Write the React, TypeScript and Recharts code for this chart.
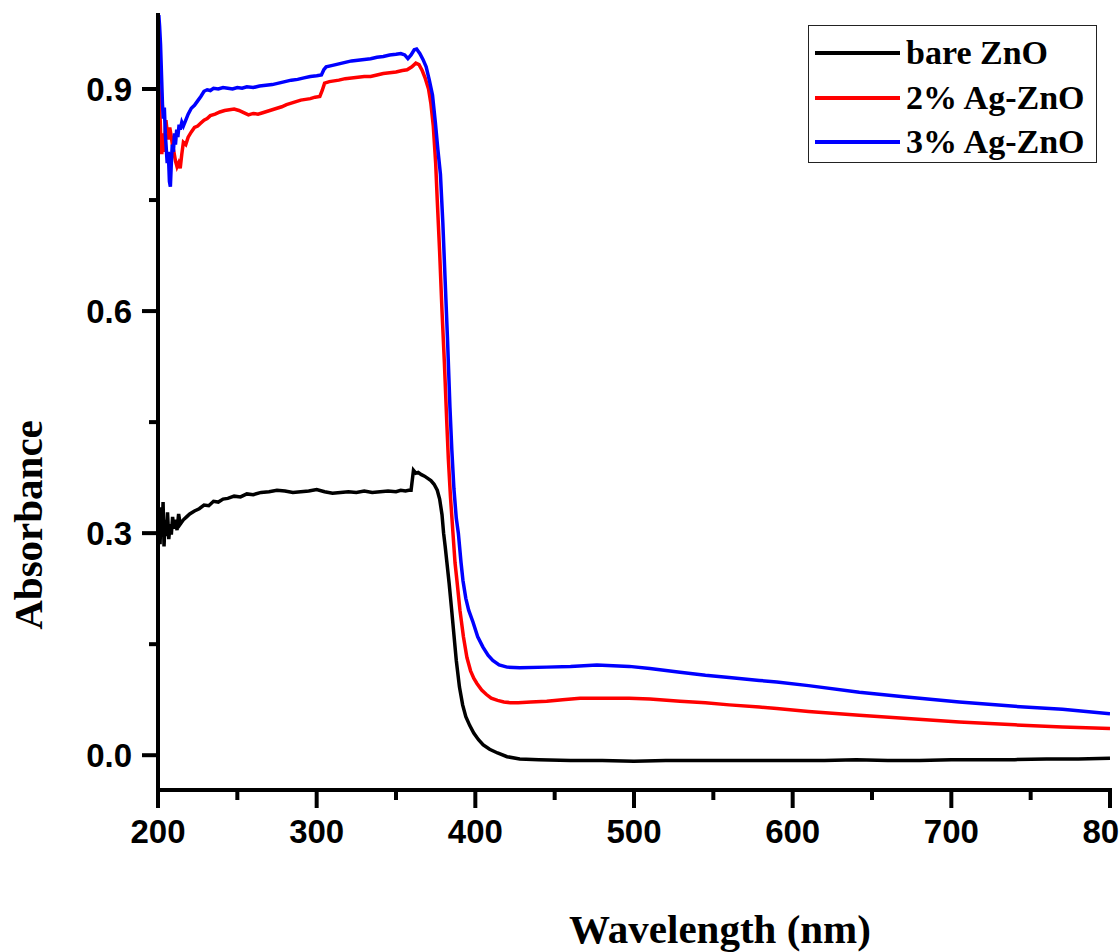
import React from 'react';
import { LineChart, Line, XAxis, YAxis, Legend, Label } from 'recharts';

// ---- data ----
const seriesNames = ['bare ZnO', '2% Ag-ZnO', '3% Ag-ZnO'];
const seriesColors = ['#000000', '#ff0000', '#0000ff'];

const bareWl = [
  200, 200.7, 201.3, 202, 202.6, 203.2, 203.8, 204.5, 205.2, 206, 206.8, 207.6, 208.4, 209.2, 210, 211, 212, 213, 214,
  216, 218, 220, 223, 226, 229, 232, 235, 238, 241, 244, 248, 252, 256, 260, 265, 270, 275, 280, 285, 290, 295, 300,
  305, 310, 315, 320, 325, 330, 335, 340, 345, 350, 353, 356, 358, 359.5, 361, 362.5, 364, 366, 368, 370, 372, 374,
  376, 377.5, 379, 380, 381, 382, 383.5, 385, 386.5, 388, 390, 392, 394, 396.5, 399, 402, 405, 409, 414, 420, 428,
  440, 460, 480, 500, 520, 540, 560, 580, 600, 620, 640, 660, 680, 700, 720, 740, 760, 780, 800,
];
const bareAbs = [
  0.29, 0.315, 0.285, 0.335, 0.295, 0.342, 0.282, 0.318, 0.296, 0.328, 0.292, 0.312, 0.298, 0.322, 0.306, 0.318, 0.304, 0.326, 0.312,
  0.318, 0.322, 0.326, 0.33, 0.333, 0.338, 0.337, 0.343, 0.342, 0.346, 0.347, 0.35, 0.349, 0.353, 0.352, 0.355, 0.356, 0.358, 0.357, 0.355, 0.356, 0.357, 0.359,
  0.356, 0.354, 0.355, 0.356, 0.355, 0.357, 0.355, 0.356, 0.357, 0.356, 0.358, 0.357, 0.358, 0.358, 0.385, 0.381, 0.382, 0.379, 0.377, 0.374, 0.371, 0.366,
  0.358, 0.346, 0.325, 0.3, 0.282, 0.262, 0.232, 0.198, 0.163, 0.128, 0.092, 0.068, 0.052, 0.04, 0.03, 0.021, 0.014, 0.008, 0.003, -0.002, -0.005,
  -0.006, -0.007, -0.007, -0.008, -0.007, -0.007, -0.007, -0.007, -0.007, -0.007, -0.006, -0.007, -0.007, -0.006, -0.006, -0.006, -0.005, -0.005, -0.004,
];

const ag2Wl = [
  200, 200.6, 201.2, 201.8, 202.4, 203, 203.6, 204.3, 205, 205.8, 206.6, 207.4, 208.2, 209, 210, 211, 212, 213, 214, 215, 216,
  217.5, 219, 221, 223, 225, 227, 229, 231, 233, 236, 239, 242, 245, 248, 251, 254, 257, 260, 263, 266, 269, 272, 275, 278,
  281, 284, 287, 290, 293, 296, 299, 302, 303.5, 305, 308, 311, 314, 318, 322, 326, 330, 334, 338, 342, 346, 350, 354, 357,
  360, 362.5, 364.5, 366.5, 368.5, 370.5, 372, 373.5, 375, 376, 377.5, 379, 380.5, 382, 383, 384.3, 385.9, 387.2, 388.4, 390.3,
  392.5, 394.7, 397, 399, 401, 404, 407, 410, 414, 418, 422, 427, 435, 445, 455, 466, 480, 497, 510, 529, 545, 560, 579, 590,
  610, 642, 670, 705, 740, 770, 800,
];
const ag2Abs = [
  0.935, 0.905, 0.87, 0.83, 0.812, 0.84, 0.815, 0.835, 0.858, 0.842, 0.832, 0.848, 0.838, 0.826, 0.815, 0.803, 0.795, 0.8, 0.793, 0.812, 0.828,
  0.825, 0.835, 0.842, 0.848, 0.85, 0.854, 0.858, 0.86, 0.864, 0.866, 0.869, 0.871, 0.872, 0.873, 0.871, 0.868, 0.865, 0.867, 0.866, 0.868, 0.87, 0.872, 0.874, 0.876,
  0.879, 0.881, 0.883, 0.885, 0.886, 0.887, 0.889, 0.89, 0.898, 0.908, 0.91, 0.911, 0.912, 0.914, 0.915, 0.916, 0.917, 0.917, 0.919, 0.921, 0.922, 0.923, 0.925, 0.926,
  0.93, 0.935, 0.933, 0.925, 0.914, 0.9, 0.88, 0.85, 0.8, 0.75, 0.68, 0.6, 0.53, 0.45, 0.4, 0.35, 0.3, 0.26, 0.236, 0.196,
  0.16, 0.132, 0.114, 0.104, 0.097, 0.088, 0.082, 0.077, 0.074, 0.072, 0.071, 0.071, 0.072, 0.073, 0.075, 0.077, 0.077, 0.077, 0.076, 0.073, 0.071, 0.068, 0.065, 0.063,
  0.059, 0.054, 0.05, 0.045, 0.041, 0.038, 0.036,
];

const ag3Wl = [
  200, 200.5, 201, 201.6, 202.2, 202.8, 203.4, 204, 204.6, 205.2, 205.8, 206.5, 207.2, 207.8, 208.4, 209, 209.7, 210.4, 211, 211.8,
  212.5, 213.3, 214, 215, 216, 217.5, 219, 221, 223, 225, 227, 229, 231, 233, 235, 238, 241, 244, 247, 250, 253, 256, 260, 264,
  268, 272, 276, 280, 284, 288, 292, 296, 300, 303, 304.5, 306, 310, 314, 318, 322, 326, 330, 334, 338, 342, 346, 350, 353,
  355.5, 357.5, 359.5, 361.5, 363, 365, 367, 369, 371, 373, 374.8, 376.4, 378, 379.5, 381, 382.5, 384, 385.2, 386.5, 388, 389.3,
  391, 392.2, 394, 395.8, 398.5, 401.5, 404.8, 408, 411, 415, 420, 428, 445, 460, 476.6, 497, 510, 529, 545, 560, 579, 590,
  610, 642, 670, 705, 740, 770, 800,
];
const ag3Abs = [
  0.99, 1.0, 0.985, 0.96, 0.92, 0.88, 0.86, 0.875, 0.84, 0.82, 0.8, 0.815, 0.775, 0.768, 0.8, 0.825, 0.815, 0.84, 0.825, 0.845,
  0.835, 0.852, 0.845, 0.855, 0.85, 0.858, 0.866, 0.874, 0.878, 0.884, 0.89, 0.897, 0.899, 0.898, 0.901, 0.9, 0.902, 0.901, 0.9, 0.902, 0.901, 0.903, 0.902, 0.904,
  0.905, 0.906, 0.908, 0.91, 0.912, 0.913, 0.915, 0.917, 0.918, 0.919, 0.926, 0.93, 0.932, 0.934, 0.936, 0.938, 0.939, 0.94, 0.941, 0.943, 0.944, 0.946, 0.947, 0.948,
  0.946, 0.941, 0.946, 0.953, 0.954, 0.948, 0.94, 0.93, 0.912, 0.892, 0.855, 0.818, 0.785, 0.72, 0.64, 0.56, 0.47, 0.412, 0.36, 0.32, 0.3,
  0.26, 0.236, 0.212, 0.196, 0.18, 0.16, 0.146, 0.135, 0.128, 0.122, 0.119, 0.118, 0.119, 0.12, 0.122, 0.12, 0.117, 0.112, 0.108, 0.105, 0.101, 0.099,
  0.094, 0.085, 0.079, 0.072, 0.066, 0.062, 0.056,
];

const xTicks = [200, 250, 300, 350, 400, 450, 500, 550, 600, 650, 700, 750, 800];
const yTicks = [0, 0.15, 0.3, 0.45, 0.6, 0.75, 0.9];
const xDomain = [200, 800];
const yDomain = [-0.047, 1.0];
const xTitle = 'Wavelength (nm)';
const yTitle = 'Absorbance';

const zip = (w: number[], a: number[]) => w.map((x, i) => ({ wl: x, abs: a[i] }));
const seriesData = [zip(bareWl, bareAbs), zip(ag2Wl, ag2Abs), zip(ag3Wl, ag3Abs)];

const tickFont = '"Liberation Sans", Arial, sans-serif';
const serif = '"Liberation Serif", "Times New Roman", serif';

const XTick = (props: any) => {
  const { x, y, payload } = props;
  const v = payload.value;
  const major = v % 100 === 0;
  return (
    <g>
      <line x1={x} x2={x} y1={y} y2={y + (major ? 18 : 10)} stroke="#000" strokeWidth={4} />
      {major && (
        <text x={x} y={y + 53} textAnchor="middle" fontFamily={tickFont} fontSize={33} fontWeight="bold" fill="#000">
          {v}
        </text>
      )}
    </g>
  );
};

const YTick = (props: any) => {
  const { x, y, payload } = props;
  const v = payload.value;
  const major = Math.round(v * 100) % 30 === 0;
  return (
    <g>
      <line x1={x} x2={x - (major ? 16 : 9)} y1={y} y2={y} stroke="#000" strokeWidth={4} />
      {major && (
        <text x={x - 26} y={y} dy="0.36em" textAnchor="end" fontFamily={tickFont} fontSize={33} fontWeight="bold" fill="#000">
          {v.toFixed(1)}
        </text>
      )}
    </g>
  );
};

const LegendBox = () => (
  <div
    style={{
      position: 'relative',
      width: 289,
      height: 138,
      border: '1.5px solid #222',
      boxSizing: 'border-box',
      background: '#fff',
    }}
  >
    {seriesNames.map((name, i) => (
      <div
        key={name}
        style={{
          position: 'absolute',
          left: 6,
          top: 27 + 44.5 * i - 20,
          height: 40,
          display: 'flex',
          alignItems: 'center',
        }}
      >
        <div style={{ width: 85, height: 4, background: seriesColors[i] }} />
        <span
          style={{
            marginLeft: 6,
            fontFamily: serif,
            fontWeight: 'bold',
            fontSize: 34,
            lineHeight: '40px',
            whiteSpace: 'nowrap',
            color: '#000',
          }}
        >
          {name}
        </span>
      </div>
    ))}
  </div>
);

const XTitle = (props: any) => {
  const vb = props.viewBox;
  return (
    <text x={vb.x + 562} y={vb.y + 153} textAnchor="middle" fontFamily={serif} fontWeight="bold" fontSize={41} fill="#000">
      {xTitle}
    </text>
  );
};

const YTitle = (props: any) => {
  const vb = props.viewBox;
  const cx = vb.x + 28;
  const cy = 525;
  return (
    <text
      x={cx}
      y={cy}
      transform={`rotate(-90 ${cx} ${cy})`}
      dy="0.35em"
      textAnchor="middle"
      fontFamily={serif}
      fontWeight="bold"
      fontSize={41}
      fill="#000"
    >
      {yTitle}
    </text>
  );
};

export default function App() {
  return (
    <div style={{ position: 'absolute', left: 0, top: 0, width: 1120, height: 952, background: '#fff' }}>
      <LineChart width={1120} height={952} margin={{ top: 15, right: 10, bottom: 0, left: 0 }}>
        <XAxis
          dataKey="wl"
          type="number"
          domain={xDomain}
          ticks={xTicks}
          interval={0}
          allowDataOverflow
          height={162}
          tickSize={0}
          tickMargin={0}
          tickLine={false}
          tick={<XTick />}
          axisLine={{ stroke: '#000', strokeWidth: 4, strokeLinecap: 'square' }}
        >
          <Label content={<XTitle />} />
        </XAxis>
        <XAxis
          xAxisId="top"
          orientation="top"
          type="number"
          domain={xDomain}
          height={0}
          tick={false}
          tickLine={false}
          axisLine={{ stroke: '#000', strokeWidth: 4, strokeLinecap: 'square' }}
        />
        <YAxis
          type="number"
          domain={yDomain}
          ticks={yTicks}
          interval={0}
          allowDataOverflow
          width={158}
          tickSize={0}
          tickMargin={0}
          tickLine={false}
          tick={<YTick />}
          axisLine={{ stroke: '#000', strokeWidth: 4, strokeLinecap: 'square' }}
        >
          <Label content={<YTitle />} />
        </YAxis>
        <YAxis
          yAxisId="right"
          orientation="right"
          type="number"
          domain={yDomain}
          width={0}
          tick={false}
          tickLine={false}
          axisLine={{ stroke: '#000', strokeWidth: 4, strokeLinecap: 'square' }}
        />
        <Legend
          layout="vertical"
          align="center"
          verticalAlign="middle"
          content={<LegendBox />}
          wrapperStyle={{ left: 808, top: 25, width: 289, height: 138 }}
        />
        {seriesData.map((d, i) => (
          <Line
            key={seriesNames[i]}
            data={d}
            dataKey="abs"
            name={seriesNames[i]}
            type="linear"
            stroke={seriesColors[i]}
            strokeWidth={3.5}
            dot={false}
            activeDot={false}
            isAnimationActive={false}
          />
        ))}
      </LineChart>
    </div>
  );
}
